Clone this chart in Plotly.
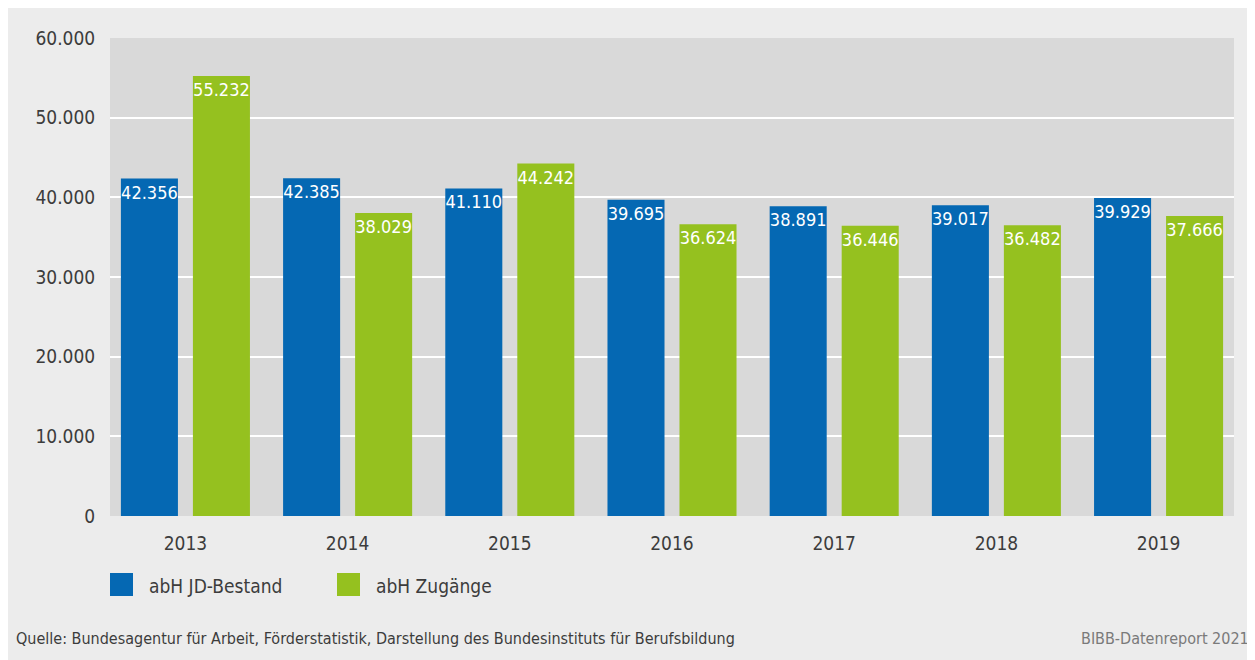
import plotly.graph_objects as go

years = ["2013", "2014", "2015", "2016", "2017", "2018", "2019"]
series_names = ["abH JD-Bestand", "abH Zugänge"]
bestand = [42356, 42385, 41110, 39695, 38891, 39017, 39929]
zugaenge = [55232, 38029, 44242, 36624, 36446, 36482, 37666]
y_ticks = [0, 10000, 20000, 30000, 40000, 50000, 60000]
y_tick_labels = ["0", "10.000", "20.000", "30.000", "40.000", "50.000", "60.000"]
source_text = "Quelle: Bundesagentur für Arbeit, Förderstatistik, Darstellung des Bundesinstituts für Berufsbildung"
brand_text = "BIBB-Datenreport 2021"

BLUE = "#0568b3"
GREEN = "#95c11f"
FONT = "DejaVu Sans Condensed, Liberation Sans Narrow, sans-serif"


def de_fmt(v):
    return f"{v:,}".replace(",", ".")


fig = go.Figure()
for name, vals, col in [(series_names[0], bestand, BLUE), (series_names[1], zugaenge, GREEN)]:
    fig.add_trace(go.Bar(
        x=years, y=vals, name=name, marker=dict(color=col, line=dict(width=0)),
        text=[de_fmt(v) for v in vals], textposition="inside", insidetextanchor="end",
        textangle=0, constraintext="none",
        textfont=dict(color="white", size=18, family=FONT),
        showlegend=False, hoverinfo="skip",
    ))

# page has 8px body margin; positions below in screenshot pixels
OFF = 8
FW, FH = 1255, 660
L, R, T, B = 110 - OFF, FW - (1234 - OFF), 38 - OFF, FH - (516 - OFF)
W, H = FW - L - R, FH - T - B


def px(x):
    return (x - OFF - L) / W


def py(y):
    return (FH - B - (y - OFF)) / H


shapes = []
annotations = []
leg_x = [110, 337]
for i, (name, col) in enumerate(zip(series_names, [BLUE, GREEN])):
    shapes.append(dict(type="rect", xref="paper", yref="paper", x0=px(leg_x[i]), x1=px(leg_x[i] + 23),
                       y0=py(596), y1=py(573), fillcolor=col, line=dict(width=0)))
    annotations.append(dict(xref="paper", yref="paper", x=px(leg_x[i] + 37), y=py(586), text=name,
                            showarrow=False, xanchor="left", yanchor="middle",
                            font=dict(size=19, color="#3c3c3c", family=FONT)))
annotations.append(dict(xref="paper", yref="paper", x=px(14), y=py(638), text=source_text, showarrow=False,
                        xanchor="left", yanchor="middle", font=dict(size=16, color="#3c3c3c", family=FONT)))
annotations.append(dict(xref="paper", yref="paper", x=px(1251), y=py(638), text=brand_text, showarrow=False,
                        xanchor="right", yanchor="middle", font=dict(size=16, color="#7a7a7a", family=FONT)))

fig.update_layout(
    width=FW, height=FH, margin=dict(l=L, r=R, t=T, b=B, autoexpand=False),
    paper_bgcolor="#ececec", plot_bgcolor="#d9d9d9",
    barmode="group", bargap=0.112, bargroupgap=0.208,
    font=dict(family=FONT, color="#3c3c3c"),
    shapes=shapes, annotations=annotations,
    xaxis=dict(type="category", range=[-0.465, 6.465], showgrid=False, zeroline=False,
               tickfont=dict(size=19, color="#3c3c3c"), ticks="outside", ticklen=10,
               tickcolor="rgba(0,0,0,0)", showline=False),
    yaxis=dict(range=[0, 60000], tickvals=y_ticks, ticktext=y_tick_labels, showgrid=True,
               gridcolor="white", gridwidth=2, zeroline=False, showline=False,
               tickfont=dict(size=19, color="#3c3c3c"), ticks="outside", ticklen=10,
               tickcolor="rgba(0,0,0,0)"),
)
fig.write_html("out.html")
